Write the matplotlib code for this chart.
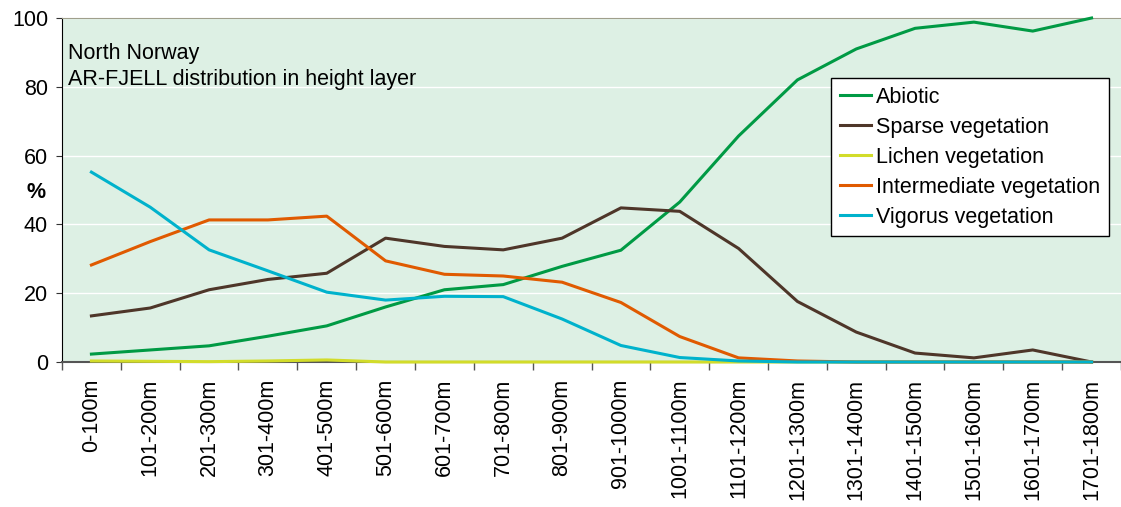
import matplotlib
matplotlib.use("Agg")
import matplotlib.pyplot as plt
import numpy as np

plt.rcParams['font.family'] = ['Liberation Sans', 'DejaVu Sans']

categories = ["0-100m", "101-200m", "201-300m", "301-400m", "401-500m", "501-600m",
              "601-700m", "701-800m", "801-900m", "901-1000m", "1001-1100m", "1101-1200m",
              "1201-1300m", "1301-1400m", "1401-1500m", "1501-1600m", "1601-1700m", "1701-1800m"]

abiotic = [2.3, 3.5, 4.7, 7.5, 10.5, 16.0, 21.0, 22.5, 27.8, 32.5, 46.5, 65.7, 82.0, 91.0, 97.0, 98.8, 96.2, 100.0]
sparse = [13.4, 15.7, 21.0, 24.0, 25.8, 36.0, 33.6, 32.6, 36.0, 44.8, 43.8, 33.0, 17.6, 8.7, 2.6, 1.2, 3.5, 0.0]
lichen = [0.3, 0.2, 0.1, 0.3, 0.6, 0.0, 0.0, 0.0, 0.0, 0.0, 0.0, 0.0, 0.0, 0.0, 0.0, 0.0, 0.0, 0.0]
intermediate = [28.2, 35.0, 41.3, 41.3, 42.4, 29.4, 25.5, 25.0, 23.2, 17.3, 7.4, 1.2, 0.3, 0.0, 0.0, 0.0, 0.0, 0.0]
vigorus = [55.2, 45.0, 32.6, 26.5, 20.3, 18.0, 19.1, 19.0, 12.5, 4.8, 1.3, 0.3, 0.0, 0.0, 0.0, 0.0, 0.0, 0.0]

series = [
    ("Abiotic", abiotic, "#009A44"),
    ("Sparse vegetation", sparse, "#4E3629"),
    ("Lichen vegetation", lichen, "#D2DC2A"),
    ("Intermediate vegetation", intermediate, "#E05A00"),
    ("Vigorus vegetation", vigorus, "#00B2CC"),
]

FS = 15.5

fig = plt.figure(figsize=(11.21, 5.07), dpi=100)
ax = fig.add_axes([62/1121, 1-362/507, 1-62/1121, (362-18)/507])
ax.set_facecolor("#DDF0E4")

x = np.arange(len(categories))
for name, vals, col in series:
    ax.plot(x, vals, color=col, lw=2.2, label=name, zorder=3, clip_on=False)

ax.set_xlim(-0.5, len(categories) - 0.5)
ax.set_ylim(0, 100)
ax.set_yticks([0, 20, 40, 60, 80, 100])
ax.set_xticks(x)
ax.set_xticklabels(categories, rotation=90, fontsize=FS)
ax.tick_params(axis='x', length=0, pad=12)
ax.set_xticks(np.arange(-0.5, len(categories)), minor=True)
ax.tick_params(axis='x', which='minor', length=6, color='#555555', width=1)
ax.tick_params(axis='y', length=4, color='#333333', labelsize=FS, pad=6)
ax.yaxis.grid(True, color='white', lw=1)
ax.set_axisbelow(True)

ax.spines['right'].set_visible(False)
ax.spines['top'].set_color('#A09F8C')
ax.spines['left'].set_color('black')
ax.spines['bottom'].set_color('#555555')
ax.spines['bottom'].set_linewidth(1.5)

ax.set_ylabel('%', fontsize=FS, fontweight='bold', rotation=0, va='center', ha='center')
ax.yaxis.set_label_coords(-0.0245, 0.494)

ax.text(0.0057, (362-59)/344, "North Norway", transform=ax.transAxes,
        fontsize=FS, va='baseline', ha='left')
ax.text(0.0057, (362-85)/344, "AR-FJELL distribution in height layer", transform=ax.transAxes,
        fontsize=FS, va='baseline', ha='left')

leg = ax.legend(loc='upper right', bbox_to_anchor=((1109-62)/1059, (362-78)/344), fontsize=FS,
                frameon=True, fancybox=False, edgecolor='black', framealpha=1,
                handlelength=1.45, handletextpad=0.25, labelspacing=0.42, borderpad=0.4,
                borderaxespad=0)
leg.get_frame().set_linewidth(1)
leg.set_zorder(5)

fig.savefig("out.png", dpi=100)
